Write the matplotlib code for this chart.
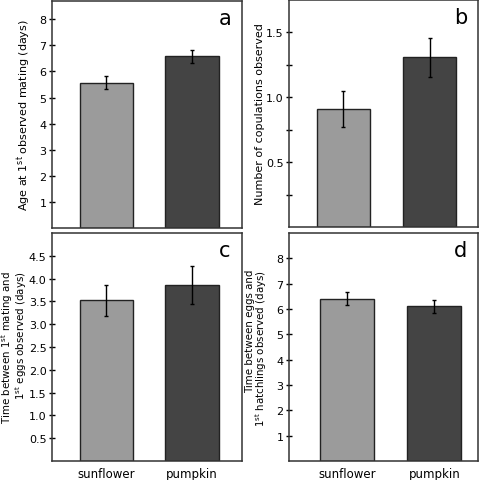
import matplotlib
matplotlib.use("Agg")
import matplotlib.pyplot as plt
import numpy as np

plt.rcParams['font.family'] = ['DejaVu Sans']

# data
groups = ['sunflower', 'pumpkin']
bar_colors = ['#9b9b9b', '#444444']

age_mating = [5.57, 6.58]
age_mating_err = [0.25, 0.26]

copulations = [0.91, 1.31]
copulations_err = [0.14, 0.15]

mating_to_eggs = [3.52, 3.86]
mating_to_eggs_err = [0.35, 0.41]

eggs_to_hatch = [6.41, 6.10]
eggs_to_hatch_err = [0.27, 0.26]

panels = [
    dict(vals=age_mating, err=age_mating_err, ylim=(0, 8.7), ticks=np.arange(1, 9),
         labels=[str(t) for t in range(1, 9)],
         ylabel='Age at 1$^{\\rm st}$ observed mating (days)', letter='a',
         rect=[52, 2, 242, 229], xlim=(-0.63, 1.58), label_x=24),
    dict(vals=copulations, err=copulations_err, ylim=(0, 1.75),
         ticks=[0.25, 0.5, 0.75, 1.0, 1.25, 1.5],
         labels=['', '0.5', '', '1.0', '', '1.5'],
         ylabel='Number of copulations observed', letter='b',
         rect=[289, 1, 478, 228], xlim=(-0.63, 1.56), label_x=260),
    dict(vals=mating_to_eggs, err=mating_to_eggs_err, ylim=(0, 5.0),
         ticks=np.arange(0.5, 5.0, 0.5),
         labels=['%.1f' % t for t in np.arange(0.5, 5.0, 0.5)],
         ylabel='Time between 1$^{\\rm st}$ mating and\n1$^{\\rm st}$ eggs observed (days)',
         letter='c', rect=[52, 234, 242, 462], xlim=(-0.63, 1.58), label_x=14),
    dict(vals=eggs_to_hatch, err=eggs_to_hatch_err, ylim=(0, 9.0), ticks=np.arange(1, 9),
         labels=[str(t) for t in range(1, 9)],
         ylabel='Time between eggs and\n1$^{\\rm st}$ hatchlings observed (days)',
         letter='d', rect=[289, 234, 478, 462], xlim=(-0.67, 1.50), label_x=257),
]

W, H = 480, 481
fig = plt.figure(figsize=(W / 100, H / 100), dpi=100)

for i, p in enumerate(panels):
    x0, y0, x1, y1 = p['rect']
    ax = fig.add_axes([x0 / W, 1 - y1 / H, (x1 - x0) / W, (y1 - y0) / H])
    x = np.arange(len(groups))
    ax.bar(x, p['vals'], width=0.62, color=bar_colors, edgecolor='#222222', linewidth=1.0)
    ax.errorbar(x, p['vals'], yerr=p['err'], fmt='none', ecolor='black',
                elinewidth=1.0, capsize=1.5, capthick=1.0)
    ax.set_ylim(*p['ylim'])
    ax.set_xlim(*p['xlim'])
    ax.set_yticks(p['ticks'])
    ax.set_yticklabels(p['labels'])
    ax.tick_params(axis='y', direction='inout', length=5, width=1, labelsize=8, pad=1.5)
    if i >= 2:
        ax.set_xticks(x)
        ax.set_xticklabels(groups)
        ax.tick_params(axis='x', length=0, labelsize=8.5, pad=4)
    else:
        ax.set_xticks([])
    two_line = '\n' in p['ylabel']
    ax.set_ylabel(p['ylabel'], fontsize=7.4 if two_line else 8,
                  linespacing=0.85, va='center', multialignment='right')
    ax.yaxis.set_label_coords((p['label_x'] - x0) / (x1 - x0), 0.5)
    ax.text(0.91, 0.925, p['letter'], transform=ax.transAxes, fontsize=15,
            ha='center', va='center')
    for s in ax.spines.values():
        s.set_linewidth(1.1)
        s.set_color('#333333')

fig.savefig('out.png', dpi=100)
